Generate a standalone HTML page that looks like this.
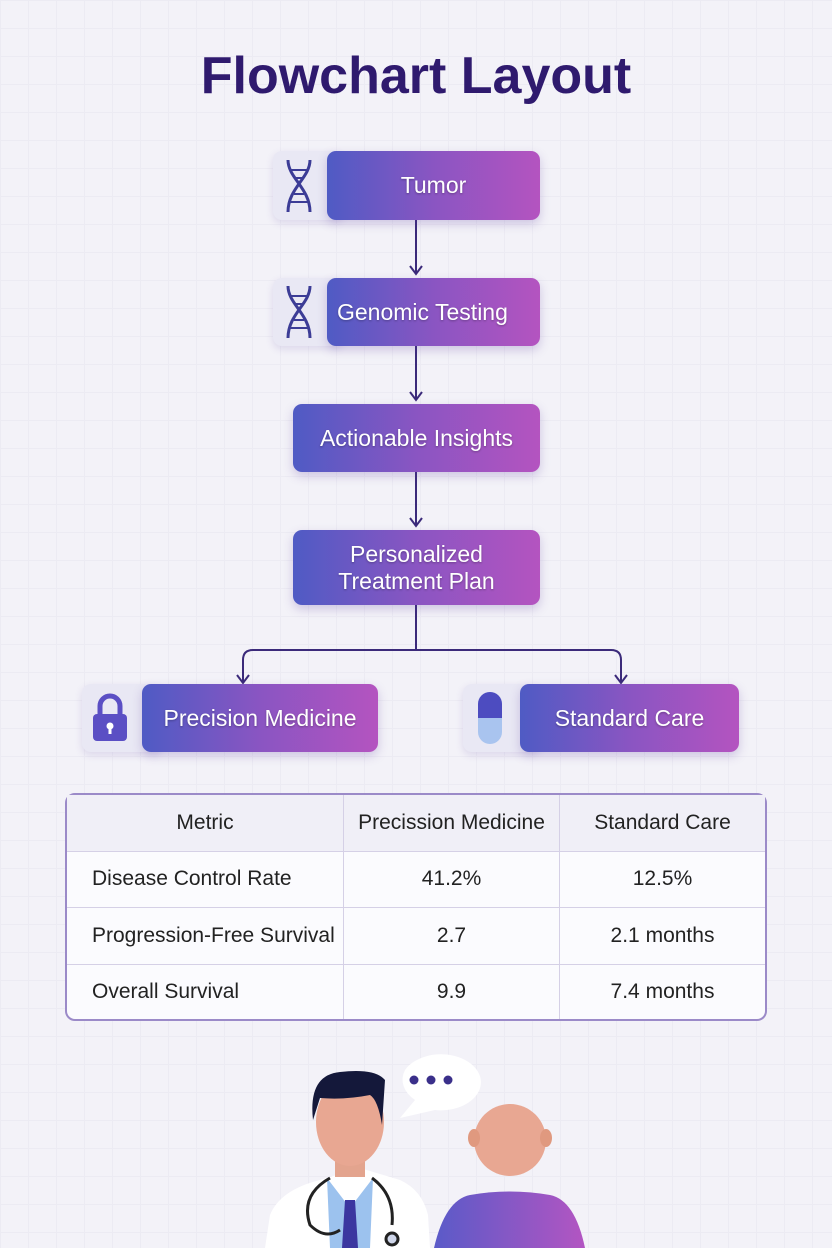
<!DOCTYPE html>
<html><head><meta charset="utf-8"><style>
body{margin:0;width:832px;height:1248px;overflow:hidden;background:#f3f2f8;font-family:"Liberation Sans",sans-serif;position:relative}
.bg{position:absolute;inset:0;background-image:linear-gradient(#e9e7f1 1px,transparent 1px),linear-gradient(90deg,#e9e7f1 1px,transparent 1px);background-size:28px 28px;opacity:.6}
h1{position:absolute;top:46px;left:0;width:832px;text-align:center;margin:0;font-size:52px;color:#2f1a6e;font-weight:bold}
.box{position:absolute;border-radius:9px;background:linear-gradient(90deg,#4f5bc4,#8a55c2,#b454c0);color:#fff;font-size:23px;display:flex;align-items:center;justify-content:center;text-align:center;box-shadow:0 4px 10px rgba(90,60,160,.25);text-shadow:0 1px 2px rgba(0,0,0,.3);line-height:27px}
.ic{position:absolute;border-radius:9px;background:#e9e8f4;box-shadow:0 3px 8px rgba(90,60,160,.15)}
table{position:absolute;left:65px;top:793px;width:702px;height:228px;border-collapse:separate;border-spacing:0;border:2px solid #9b8ac8;border-radius:10px;background:#fbfbfe;font-size:21px;color:#222}
td{border-right:1px solid #d5d0e6;border-bottom:1px solid #d5d0e6;text-align:center}
tr td:last-child{border-right:none}tr:last-child td{border-bottom:none}
td.l{text-align:left;padding-left:25px}
tr:first-child td{background:#f0eff7}
</style></head><body>
<div class="bg"></div>
<h1>Flowchart Layout</h1>
<svg style="position:absolute;left:0;top:0" width="832" height="1248">
<g stroke="#3b2a7a" stroke-width="2" fill="none">
<line x1="416" y1="220" x2="416" y2="274"/><polyline points="410,266 416,274 422,266"/>
<line x1="416" y1="346" x2="416" y2="400"/><polyline points="410,392 416,400 422,392"/>
<line x1="416" y1="472" x2="416" y2="526"/><polyline points="410,518 416,526 422,518"/>
<path d="M416 605V650H253Q243 650 243 660V682M416 650H611Q621 650 621 660V682"/>
<polyline points="237,675 243,683 249,675"/><polyline points="615,675 621,683 627,675"/>
</g></svg>
<div class="ic" style="left:273px;top:151px;width:70px;height:69px"></div>
<div class="box" style="left:327px;top:151px;width:213px;height:69px">Tumor</div>
<div class="ic" style="left:273px;top:278px;width:70px;height:68px"></div>
<div class="box" style="left:327px;top:278px;width:213px;height:68px;justify-content:flex-start;padding-left:10px;box-sizing:border-box">Genomic Testing</div>
<svg style="position:absolute;left:284px;top:158px" width="30" height="56"><g stroke="#3c3c96" stroke-width="3" fill="none"><path d="M4 2C4 20 26 30 26 54M26 2C26 20 4 30 4 54"/><path d="M6 12H24M10 20H20M10 36H20M6 44H24" stroke-width="2"/></g></svg>
<svg style="position:absolute;left:284px;top:284px" width="30" height="56"><g stroke="#3c3c96" stroke-width="3" fill="none"><path d="M4 2C4 20 26 30 26 54M26 2C26 20 4 30 4 54"/><path d="M6 12H24M10 20H20M10 36H20M6 44H24" stroke-width="2"/></g></svg>
<div class="box" style="left:293px;top:404px;width:247px;height:68px">Actionable Insights</div>
<div class="box" style="left:293px;top:530px;width:247px;height:75px">Personalized<br>Treatment Plan</div>
<div class="ic" style="left:82px;top:684px;width:80px;height:68px"></div>
<div class="box" style="left:142px;top:684px;width:236px;height:68px">Precision Medicine</div>
<svg style="position:absolute;left:90px;top:692px" width="40" height="52"><path d="M10 22V14a10 10 0 0 1 20 0v8" stroke="#5b4fc4" stroke-width="5" fill="none"/><rect x="3" y="22" width="34" height="27" rx="4" fill="#5b4fc4"/><circle cx="20" cy="34" r="3.5" fill="#fff"/><rect x="18.5" y="34" width="3" height="8" fill="#fff"/></svg>
<div class="ic" style="left:463px;top:684px;width:77px;height:68px"></div>
<div class="box" style="left:520px;top:684px;width:219px;height:68px">Standard Care</div>
<svg style="position:absolute;left:476px;top:690px" width="28" height="56"><rect x="2" y="2" width="24" height="52" rx="12" fill="#a9c4ef"/><path d="M2 28V14a12 12 0 0 1 24 0v14z" fill="#4d4cc0"/></svg>
<table>
<tr><td style="width:274px">Metric</td><td style="width:213px">Precission Medicine</td><td>Standard Care</td></tr>
<tr><td class="l">Disease Control Rate</td><td>41.2%</td><td>12.5%</td></tr>
<tr><td class="l">Progression-Free Survival</td><td>2.7</td><td>2.1 months</td></tr>
<tr><td class="l">Overall Survival</td><td>9.9</td><td>7.4 months</td></tr>
</table>
<svg style="position:absolute;left:250px;top:1040px" width="350" height="208">
<defs><linearGradient id="g" x1="0" x2="1"><stop offset="0" stop-color="#5a5ac8"/><stop offset="1" stop-color="#b355c2"/></linearGradient></defs>
<path d="M155 30a40 28 0 1 1 30 40l-35 8 15-18a40 28 0 0 1-10-30z" fill="#fff"/>
<circle cx="164" cy="40" r="4.5" fill="#3a2f8a"/><circle cx="181" cy="40" r="4.5" fill="#3a2f8a"/><circle cx="198" cy="40" r="4.5" fill="#3a2f8a"/>
<path d="M15 208L20 175Q30 150 70 140L110 128L150 140Q172 150 178 175L180 208z" fill="#fff"/>
<path d="M77 138L100 168L123 138L120 208H80z" fill="#9cc2ee"/>
<path d="M95 160L105 160L108 208H92z" fill="#3b36a0"/>
<rect x="85" y="105" width="30" height="32" fill="#e3a48e"/>
<ellipse cx="100" cy="82" rx="34" ry="44" fill="#e8a792"/>
<path d="M63 80Q58 35 90 32Q125 28 135 40L132 85Q128 60 120 55Q95 60 70 58z" fill="#14183a"/>
<path d="M80 138Q50 155 60 185Q75 200 90 190M122 138Q145 155 142 185" stroke="#222" stroke-width="3" fill="none"/>
<circle cx="142" cy="199" r="6" fill="#cfd6ea" stroke="#222" stroke-width="3"/>
<circle cx="260" cy="100" r="36" fill="#e8a792"/>
<ellipse cx="224" cy="98" rx="6" ry="9" fill="#e0997f"/><ellipse cx="296" cy="98" rx="6" ry="9" fill="#e0997f"/>
<path d="M184 208Q195 160 220 155Q260 148 300 155Q325 160 335 208z" fill="url(#g)"/>
</svg>
</body></html>
